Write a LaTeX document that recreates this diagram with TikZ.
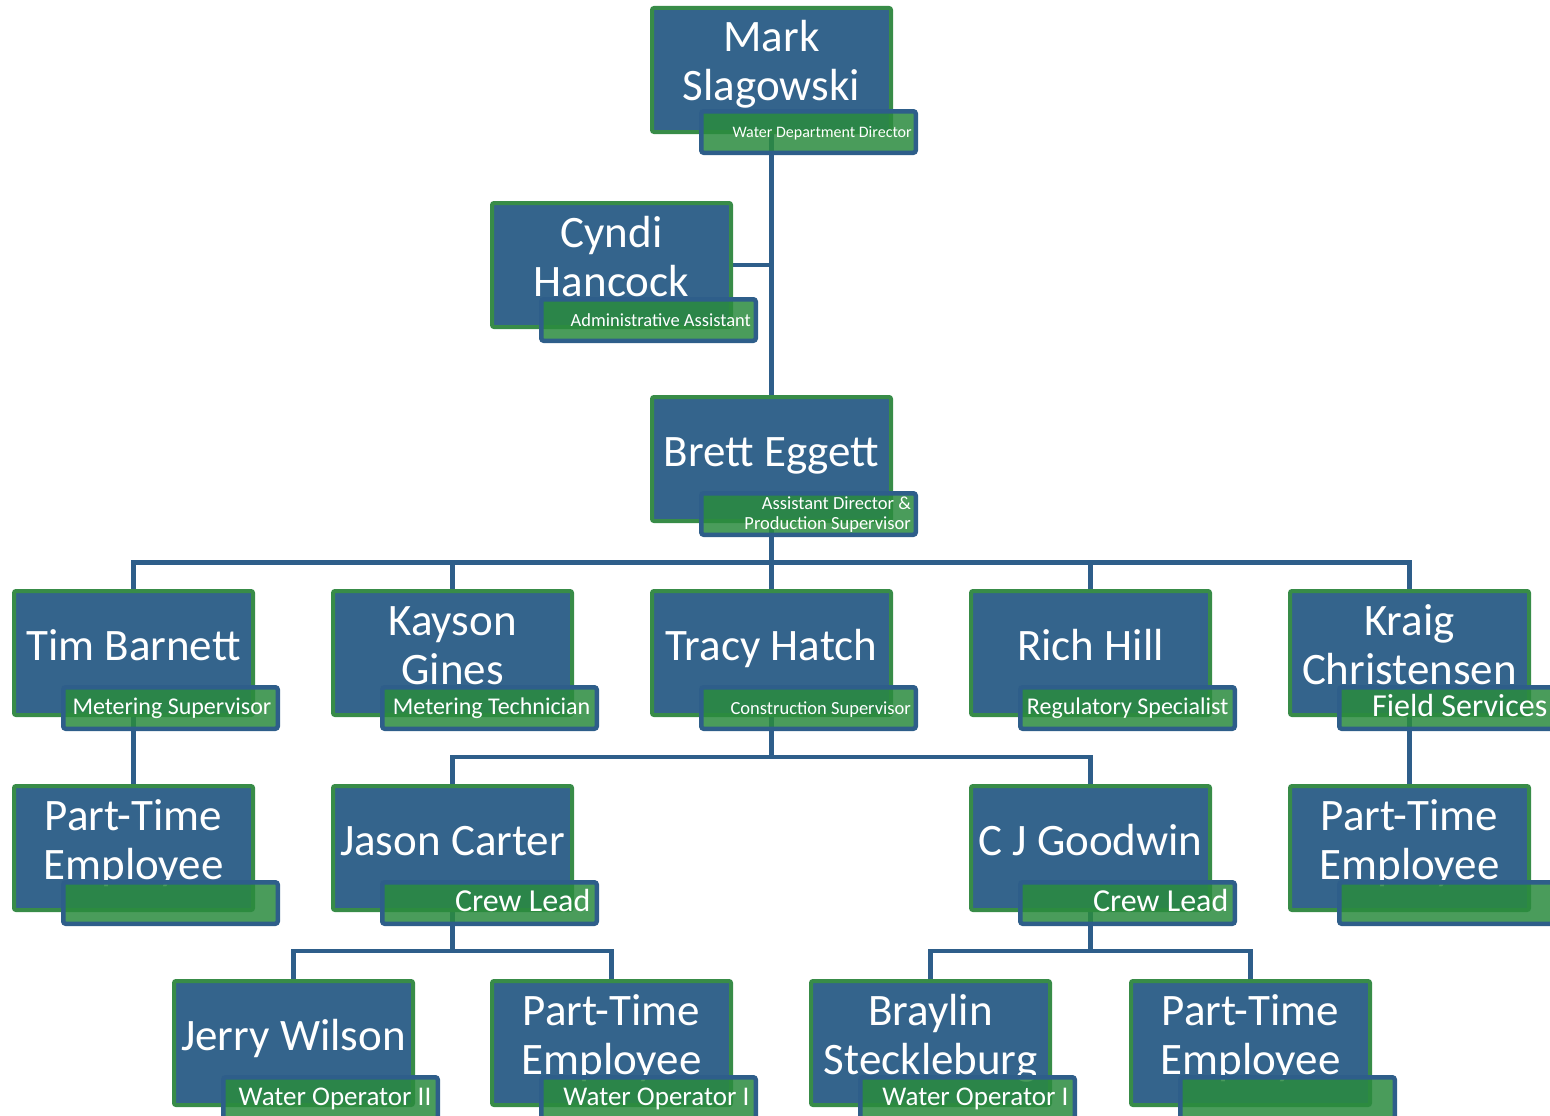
\documentclass[tikz,border=0pt]{standalone}
\usepackage{fontspec}
\setmainfont{Carlito}
\usetikzlibrary{backgrounds}

\definecolor{boxblue}{RGB}{52,100,140}
\definecolor{linkblue}{RGB}{46,94,138}
\definecolor{rimgreen}{RGB}{56,140,72}
\definecolor{tagfill}{RGB}{42,139,62}

\tikzset{
  person/.style={draw=rimgreen, line width=4pt, fill=boxblue, rounded corners=2pt,
    minimum width=239pt, minimum height=124pt, inner sep=0pt, anchor=north west},
  tagbox/.style={draw=linkblue, line width=4.5pt, fill=tagfill, fill opacity=0.85,
    rounded corners=2.5pt, minimum width=214.5pt, minimum height=41.5pt,
    inner sep=0pt, anchor=north west},
  nametext/.style={text=white, inner sep=0pt, anchor=base,
    font=\fontsize{45}{49}\selectfont},
  tagtext/.style={text=white, inner sep=0pt, anchor=base east},
  link/.style={draw=linkblue, line width=4.5pt},
}

% #1 id, #2 left, #3 top, #4 name, #5 name baseline offset,
% #6 tag top offset, #7 tag font size, #8 tag text, #9 tag baseline offset
\newcommand\staffcard[9]{%
  \node[person] (#1) at (#2,#3) {};
  \node[nametext] (#1-name) at (#2+121.5,#3+#5)
    {\begin{tabular}[t]{@{}c@{}}#4\end{tabular}};
  \node[tagbox] (#1-tag) at (#2+49,#3+#6) {};
  \node[tagtext, font=\fontsize{#7}{20.3}\selectfont] (#1-tagtext)
    at ({#2+259.5+0.3*max(0,24-#7)},#3+#6+#9)
    {\begin{tabular}[t]{@{}r@{}}#8\end{tabular}};
}

\begin{document}
\begin{tikzpicture}[x=1pt,y=-1pt]
  \useasboundingbox (0,0) rectangle (1550,1116);
  \clip (0,0) rectangle (1550,1116);

  % director and assistants
  \staffcard{mark}{650}{6}{Mark\\Slagowski}{46}{103}{16}{Water Department Director}{28.7}
  \staffcard{cyndi}{490}{201}{Cyndi\\Hancock}{46}{96}{18.5}{Administrative Assistant}{29}
  \staffcard{brett}{650}{395}{Brett Eggett}{71}{96}{18.5}{Assistant Director \&\\Production Supervisor}{18}

  % supervisors
  \staffcard{tim}{12}{589}{Tim Barnett}{71}{96}{24}{Metering Supervisor}{29.5}
  \staffcard{kayson}{331}{589}{Kayson\\Gines}{46}{96}{24}{Metering Technician}{29.5}
  \staffcard{tracy}{650}{589}{Tracy Hatch}{71}{96}{18.5}{Construction Supervisor}{29}
  \staffcard{rich}{969}{589}{Rich Hill}{71}{96}{24}{Regulatory Specialist}{29.5}
  \staffcard{kraig}{1288}{589}{Kraig\\Christensen}{46}{96}{32}{Field Services}{31.7}

  % crew leads and part-time staff
  \staffcard{timpt}{12}{784}{Part-Time\\Employee}{46}{96}{24}{}{29.5}
  \staffcard{jason}{331}{784}{Jason Carter}{71}{96}{32}{Crew Lead}{31.7}
  \staffcard{cj}{969}{784}{C J Goodwin}{71}{96}{32}{Crew Lead}{31.7}
  \staffcard{kraigpt}{1288}{784}{Part-Time\\Employee}{46}{96}{24}{}{29.5}

  % operators
  \staffcard{jerry}{172}{979}{Jerry Wilson}{71}{96}{27}{Water Operator II}{30.5}
  \staffcard{jasonpt}{490}{979}{Part-Time\\Employee}{46}{96}{27}{Water Operator I}{30.5}
  \staffcard{braylin}{809}{979}{Braylin\\Steckleburg}{46}{96}{27}{Water Operator I}{30.5}
  \staffcard{cjpt}{1129}{979}{Part-Time\\Employee}{46}{96}{27}{}{30.5}

  \coordinate (bar1) at (771.5,562.5);
  \coordinate (bar2) at (771.5,757);
  \coordinate (bar3) at (452.5,951);
  \coordinate (bar4) at (1090.5,951);

  \begin{scope}[on background layer]
    \draw[link] (mark.center) -- (brett.center);
    \draw[link] (cyndi.center) -- (cyndi.center -| mark.center);
    \draw[link] (brett.center) -- (bar1);
    \draw[link] (tim.center) |- (bar1) -| (kraig.center);
    \draw[link] (kayson.center) |- (bar1);
    \draw[link] (rich.center) |- (bar1);
    \draw[link] (bar1) -- (tracy.center);
    \draw[link] (tim.center) -- (timpt.center);
    \draw[link] (kraig.center) -- (kraigpt.center);
    \draw[link] (tracy.center) -- (bar2);
    \draw[link] (jason.center) |- (bar2) -| (cj.center);
    \draw[link] (jason.center) -- (bar3);
    \draw[link] (jerry.center) |- (bar3) -| (jasonpt.center);
    \draw[link] (cj.center) -- (bar4);
    \draw[link] (braylin.center) |- (bar4) -| (cjpt.center);
  \end{scope}
\end{tikzpicture}
\end{document}
